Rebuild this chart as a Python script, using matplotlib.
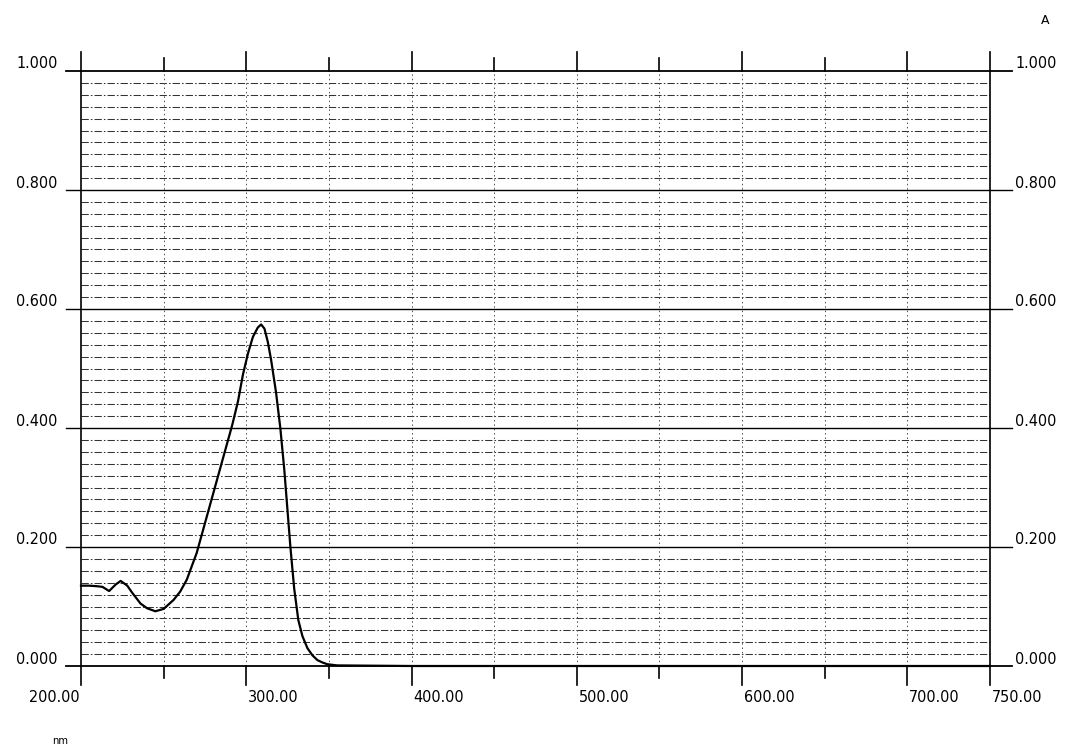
import matplotlib
matplotlib.use("Agg")
import matplotlib.pyplot as plt
import matplotlib.transforms as mtransforms
from matplotlib.lines import Line2D

# ---- data ----
wavelength_nm = [200, 205, 210, 213, 217, 221, 224, 228, 231, 236, 240, 245, 250,
                 256, 260, 264, 270, 275, 280, 286, 291.5, 295, 298, 301, 304, 307,
                 309, 311, 313, 315, 318, 320.6, 323, 326.7, 329, 331.5, 334, 337,
                 340, 343, 346, 349, 355, 400, 500, 600, 700, 750]
absorbance = [0.135, 0.135, 0.134, 0.133, 0.126, 0.137, 0.143, 0.135, 0.123, 0.105,
              0.097, 0.092, 0.096, 0.111, 0.125, 0.145, 0.19, 0.24, 0.29, 0.35,
              0.405, 0.445, 0.49, 0.525, 0.553, 0.569, 0.574, 0.567, 0.545, 0.515,
              0.46, 0.40, 0.33, 0.20, 0.13, 0.077, 0.05, 0.03, 0.018, 0.01, 0.006,
              0.003, 0.001, 0.0, 0.0, 0.0, 0.0, 0.0]

x_ticks_all = [200, 250, 300, 350, 400, 450, 500, 550, 600, 650, 700, 750]
x_labels = {200: "200.00", 300: "300.00", 400: "400.00", 500: "500.00",
            600: "600.00", 700: "700.00", 750: "750.00"}
y_major = [0.0, 0.2, 0.4, 0.6, 0.8, 1.0]
y_labels = ["0.000", "0.200", "0.400", "0.600", "0.800", "1.000"]
y_minor_step = 0.02

W, H = 1067, 749
fig = plt.figure(figsize=(W / 100, H / 100), dpi=100)
L, R, T, B = 81, 990, 71, 666
ax = fig.add_axes([L / W, 1 - B / H, (R - L) / W, (B - T) / H])
ax.set_xlim(200, 750)
ax.set_ylim(0, 1.0)
for s in ax.spines.values():
    s.set_visible(False)
ax.set_xticks([])
ax.set_yticks([])

font = dict(family="DejaVu Sans", fontstretch="condensed", fontsize=11.5, color="black")

# minor horizontal dashed grid
n_minor = int(round(1.0 / y_minor_step))
for i in range(1, n_minor):
    v = i * y_minor_step
    if abs(v / 0.2 - round(v / 0.2)) < 1e-6:
        continue
    ax.axhline(v, color="0.2", lw=0.75, ls=(0, (7, 2, 1.5, 2)), zorder=1)

# vertical dotted lines at ticks
for xv in x_ticks_all[1:-1]:
    ax.axvline(xv, color="0.3", lw=0.7, ls=(0, (1.5, 3)), zorder=1)

# major horizontal lines extending beyond frame
btrans = mtransforms.blended_transform_factory(ax.transAxes, ax.transData)
ext_l = (66 - L) / (R - L)
ext_r = (1012 - L) / (R - L)
for v, lab in zip(y_major, y_labels):
    ax.add_line(Line2D([ext_l, ext_r], [v, v], transform=btrans, color="black",
                       lw=1.3 if v in (0.0, 1.0) else 1.0, clip_on=False, zorder=2))
    off = mtransforms.offset_copy(btrans, fig=fig, x=0, y=7, units="dots")
    ax.text(-0.026, v, lab, transform=off, ha="right", va="center", **font)
    ax.text(1.0275, v, lab, transform=off, ha="left", va="center", **font)

# frame verticals
for xa in (0, 1):
    ax.add_line(Line2D([xa, xa], [0.0, 1.0], transform=ax.transAxes, color="black",
                       lw=1.2, clip_on=False, zorder=2))

# ticks top and bottom
xtrans = mtransforms.blended_transform_factory(ax.transData, ax.transAxes)
ph = (B - T)
for xv in x_ticks_all:
    long = xv in x_labels
    lb = (19 if long else 12) / ph
    lt = (19 if long else 13) / ph
    ax.add_line(Line2D([xv, xv], [-lb, 0], transform=xtrans, color="black", lw=1.2,
                       clip_on=False))
    ax.add_line(Line2D([xv, xv], [1, 1 + lt], transform=xtrans, color="black", lw=1.2,
                       clip_on=False))
    if long:
        off = mtransforms.offset_copy(xtrans, fig=fig, x=(-1 if xv == 200 else 2),
                                      y=-31, units="dots")
        ax.text(xv, 0, x_labels[xv], transform=off,
                ha="right" if xv == 200 else "left", va="center", **font)

# spectrum
ax.plot(wavelength_nm, absorbance, color="black", lw=1.6, zorder=3, clip_on=False)

fig.text(52 / W, 1 - 741 / H, "nm", ha="left", va="center", fontsize=8,
         family="DejaVu Sans", fontstretch="condensed")
fig.text(1045 / W, 1 - 20 / H, "A", ha="center", va="center", fontsize=9,
         family="DejaVu Sans")

fig.savefig("out.png", dpi=100, facecolor="white")
